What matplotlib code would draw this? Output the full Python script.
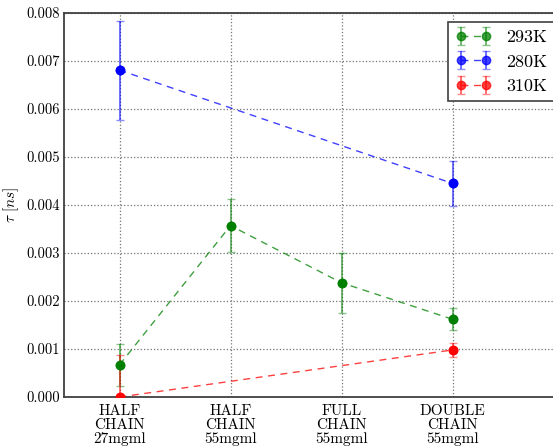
#!/usr/bin/env python3

import matplotlib
matplotlib.use("Agg")
import matplotlib.pyplot as plt
import numpy as np

plt.rcParams['font.family'] = 'serif'
plt.rcParams['font.serif'] = ['cmr10', 'DejaVu Serif']
plt.rcParams['mathtext.fontset'] = 'cm'
plt.rcParams['axes.formatter.use_mathtext'] = True

# categories on x axis
labels = ["HALF\nCHAIN\n27mgml", "HALF\nCHAIN\n55mgml", "FULL\nCHAIN\n55mgml", "DOUBLE\nCHAIN\n55mgml"]

# 293K: measured at all four systems
x_293 = [0, 1, 2, 3]
tau_293 = [0.00067, 0.00357, 0.00238, 0.00162]
err_293 = [0.00044, 0.00055, 0.00062, 0.00023]

# 280K: first and last only
x_280 = [0, 3]
tau_280 = [0.00681, 0.00445]
err_280 = [0.00103, 0.00047]

# 310K: first and last only
x_310 = [0, 3]
tau_310 = [0.0, 0.00098]
err_310 = [0.00088, 0.00014]

yticks = [0.000, 0.001, 0.002, 0.003, 0.004, 0.005, 0.006, 0.007, 0.008]

series = [
    (x_293, tau_293, err_293, 'g', '293K'),
    (x_280, tau_280, err_280, 'b', '280K'),
    (x_310, tau_310, err_310, 'r', '310K'),
]

fig = plt.figure(figsize=(5.53, 4.47), dpi=100)
ax = fig.add_axes([64 / 553, 50 / 447, 499.5 / 553, 384 / 447])

for xs, ys, es, c, lab in series:
    eb = ax.errorbar(xs, ys, yerr=es, fmt='--o', color=c, ecolor=c, capsize=3,
                     markersize=6, markeredgecolor=c, linewidth=1.0,
                     elinewidth=1.2, label=lab)
    eb[0].set_dashes([5, 4])
    eb[0].set_alpha(0.75)
    for cap in eb[1]:
        cap.set_alpha(0.45)
    for bar in eb[2]:
        bar.set_alpha(0.65)
    # markers solid on top of the bars
    ax.plot(xs, ys, 'o', color=c, markersize=6, markeredgecolor=c, zorder=3)

ax.set_xlim(-0.5, 4.0)
ax.set_ylim(0.0, 0.008)
ax.set_xticks(range(len(labels)))
ax.set_xticklabels(labels, fontsize=11, linespacing=1.05)
ax.set_yticks(yticks)
ax.set_yticklabels([f"{t:.3f}" for t in yticks], fontsize=10.5)
ax.set_ylabel(r'$\tau\ [ns]$', fontsize=11, labelpad=4)

ax.grid(True, linestyle=':', color='0.45', linewidth=0.9)
ax.tick_params(direction='in', length=0)
ax.tick_params(axis='y', pad=3)
ax.tick_params(axis='x', pad=5)
for sp in ax.spines.values():
    sp.set_color('0.25')
    sp.set_linewidth(1.3)

leg = ax.legend(loc='upper right', numpoints=2, fontsize=13, fancybox=False,
                framealpha=1, handlelength=2.0, borderaxespad=0.5)
leg.get_frame().set_edgecolor('0.25')
leg.get_frame().set_linewidth(1.2)

fig.savefig("out.png", dpi=100)
